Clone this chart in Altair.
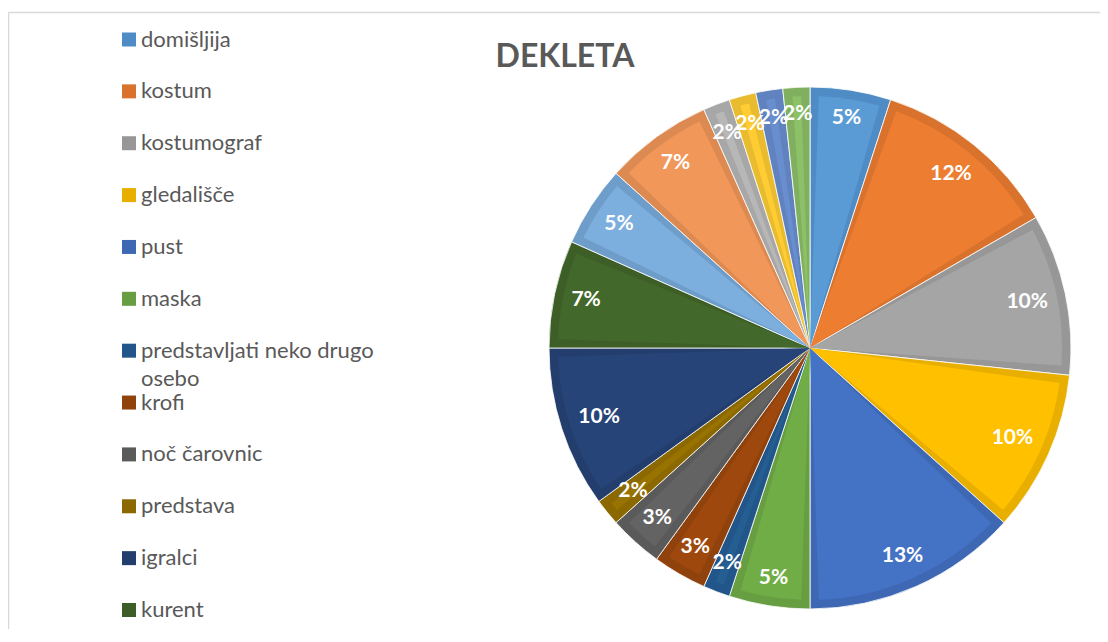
import altair as alt
import pandas as pd

# ---- data ----
title_text = ["DEKLETA"]
cats = ["domišljija", "kostum", "kostumograf", "gledališče", "pust", "maska",
        "predstavljati neko drugo osebo", "krofi", "noč čarovnic", "predstava",
        "igralci", "kurent",
        "kategorija 13", "kategorija 14", "kategorija 15", "kategorija 16",
        "kategorija 17", "kategorija 18"]
counts = [3, 7, 6, 6, 8, 3, 1, 2, 2, 1, 6, 4, 3, 4, 1, 1, 1, 1]
fills = ["#5B9BD5", "#ED7D31", "#A5A5A5", "#FFC000", "#4472C4", "#70AD47",
         "#255E91", "#9E480E", "#636363", "#997300", "#264478", "#43682B",
         "#7CAFDD", "#F1975A", "#B7B7B7", "#FFCD33", "#698ED0", "#8CC168"]
borders = ["#4F8CC6", "#D9722D", "#979797", "#E9AF00", "#3E68B3", "#669E41",
           "#22568A", "#90420D", "#5A5A5A", "#8C6900", "#233E6D", "#3D5F27",
           "#6E9DCA", "#DC8A52", "#A7A7A7", "#E9BB2F", "#6082BE", "#80B05F"]
legend_cats = cats[:12]
legend_labels = ["domišljija", "kostum", "kostumograf", "gledališče", "pust", "maska",
                 "predstavljati neko drugo\nosebo", "krofi", "noč čarovnic", "predstava",
                 "igralci", "kurent"]

pie_df = pd.DataFrame({"idx": list(range(len(cats))), "cat": cats,
                       "count": counts, "fill": fills})
leg_df = pd.DataFrame({"cat": legend_cats, "disp": legend_labels})
title_df = pd.DataFrame({"t": title_text})
frame_df = pd.DataFrame({"k": [0]})

W = H = 522
R = 261
PAD = {"left": 541, "top": 79, "right": 29, "bottom": 20}

color_scale = alt.Scale(domain=cats, range=borders)

pie_base = alt.Chart(pie_df).encode(
    theta=alt.Theta("count:Q", stack=True),
    order=alt.Order("idx:Q", sort="ascending"),
)
outer = pie_base.mark_arc(radius=R, stroke="white", strokeWidth=0.8).encode(
    color=alt.Color("cat:N", scale=color_scale, legend=None)
)
inner = pie_base.mark_arc(radius=R - 9, padAngle=0.07).encode(
    fill=alt.Fill("fill:N", scale=None)
)
labels = (
    alt.Chart(pie_df)
    .transform_joinaggregate(total="sum(count)")
    .transform_window(cum="sum(count)", sort=[alt.SortField("idx")], frame=[None, 0])
    .transform_calculate(
        mid="(datum.cum - datum.count/2)/datum.total*2*PI",
        pct="format(datum.count/datum.total, '.0%')",
    )
    .transform_calculate(
        r="244 - ((length(datum.pct)*14-1)/2*abs(sin(datum.mid)) + 9*abs(cos(datum.mid)))"
    )
    .mark_text(font="Lato", fontSize=21, fontWeight="bold", color="white")
    .encode(
        text="pct:N",
        theta=alt.Theta("mid:Q", scale=None, stack=None),
        radius=alt.Radius("r:Q", scale=None),
    )
)

leg_base = alt.Chart(leg_df).encode(
    y=alt.Y("cat:N", sort=legend_cats,
            scale=alt.Scale(range=[-47.5, 523], padding=0), axis=None)
)
squares = leg_base.mark_square(size=196, opacity=1).encode(
    x=alt.value(-420),
    color=alt.Color("cat:N", scale=color_scale, legend=None),
)
ltext = leg_base.mark_text(align="left", baseline="middle", font="Lato", fontSize=22,
                           color="#595959", lineBreak="\n", lineHeight=28).encode(
    x=alt.value(-408), text="disp:N"
)

title_chart = alt.Chart(title_df).mark_text(
    font="Lato", fontSize=32, fontWeight="bold", color="#595959",
    align="center", baseline="alphabetic"
).encode(text="t:N", x=alt.value(16), y=alt.value(-20))

left_line = alt.Chart(frame_df).mark_rule(color="#D9D9D9", strokeWidth=1.5).encode(
    x=alt.value(-540.5), y=alt.value(-74.5), y2=alt.value(620)
)
top_line = alt.Chart(frame_df).mark_rule(color="#D9D9D9", strokeWidth=1.5).encode(
    x=alt.value(-540.5), x2=alt.value(620), y=alt.value(-74.5)
)

chart = alt.layer(
    left_line, top_line, outer, inner, labels, squares, ltext, title_chart
).resolve_scale(
    theta="independent"
).properties(
    width=W, height=H, padding=PAD, autosize="none"
).configure_view(stroke=None)

chart.save("out.html", embed_options={"renderer": "svg", "actions": False})
